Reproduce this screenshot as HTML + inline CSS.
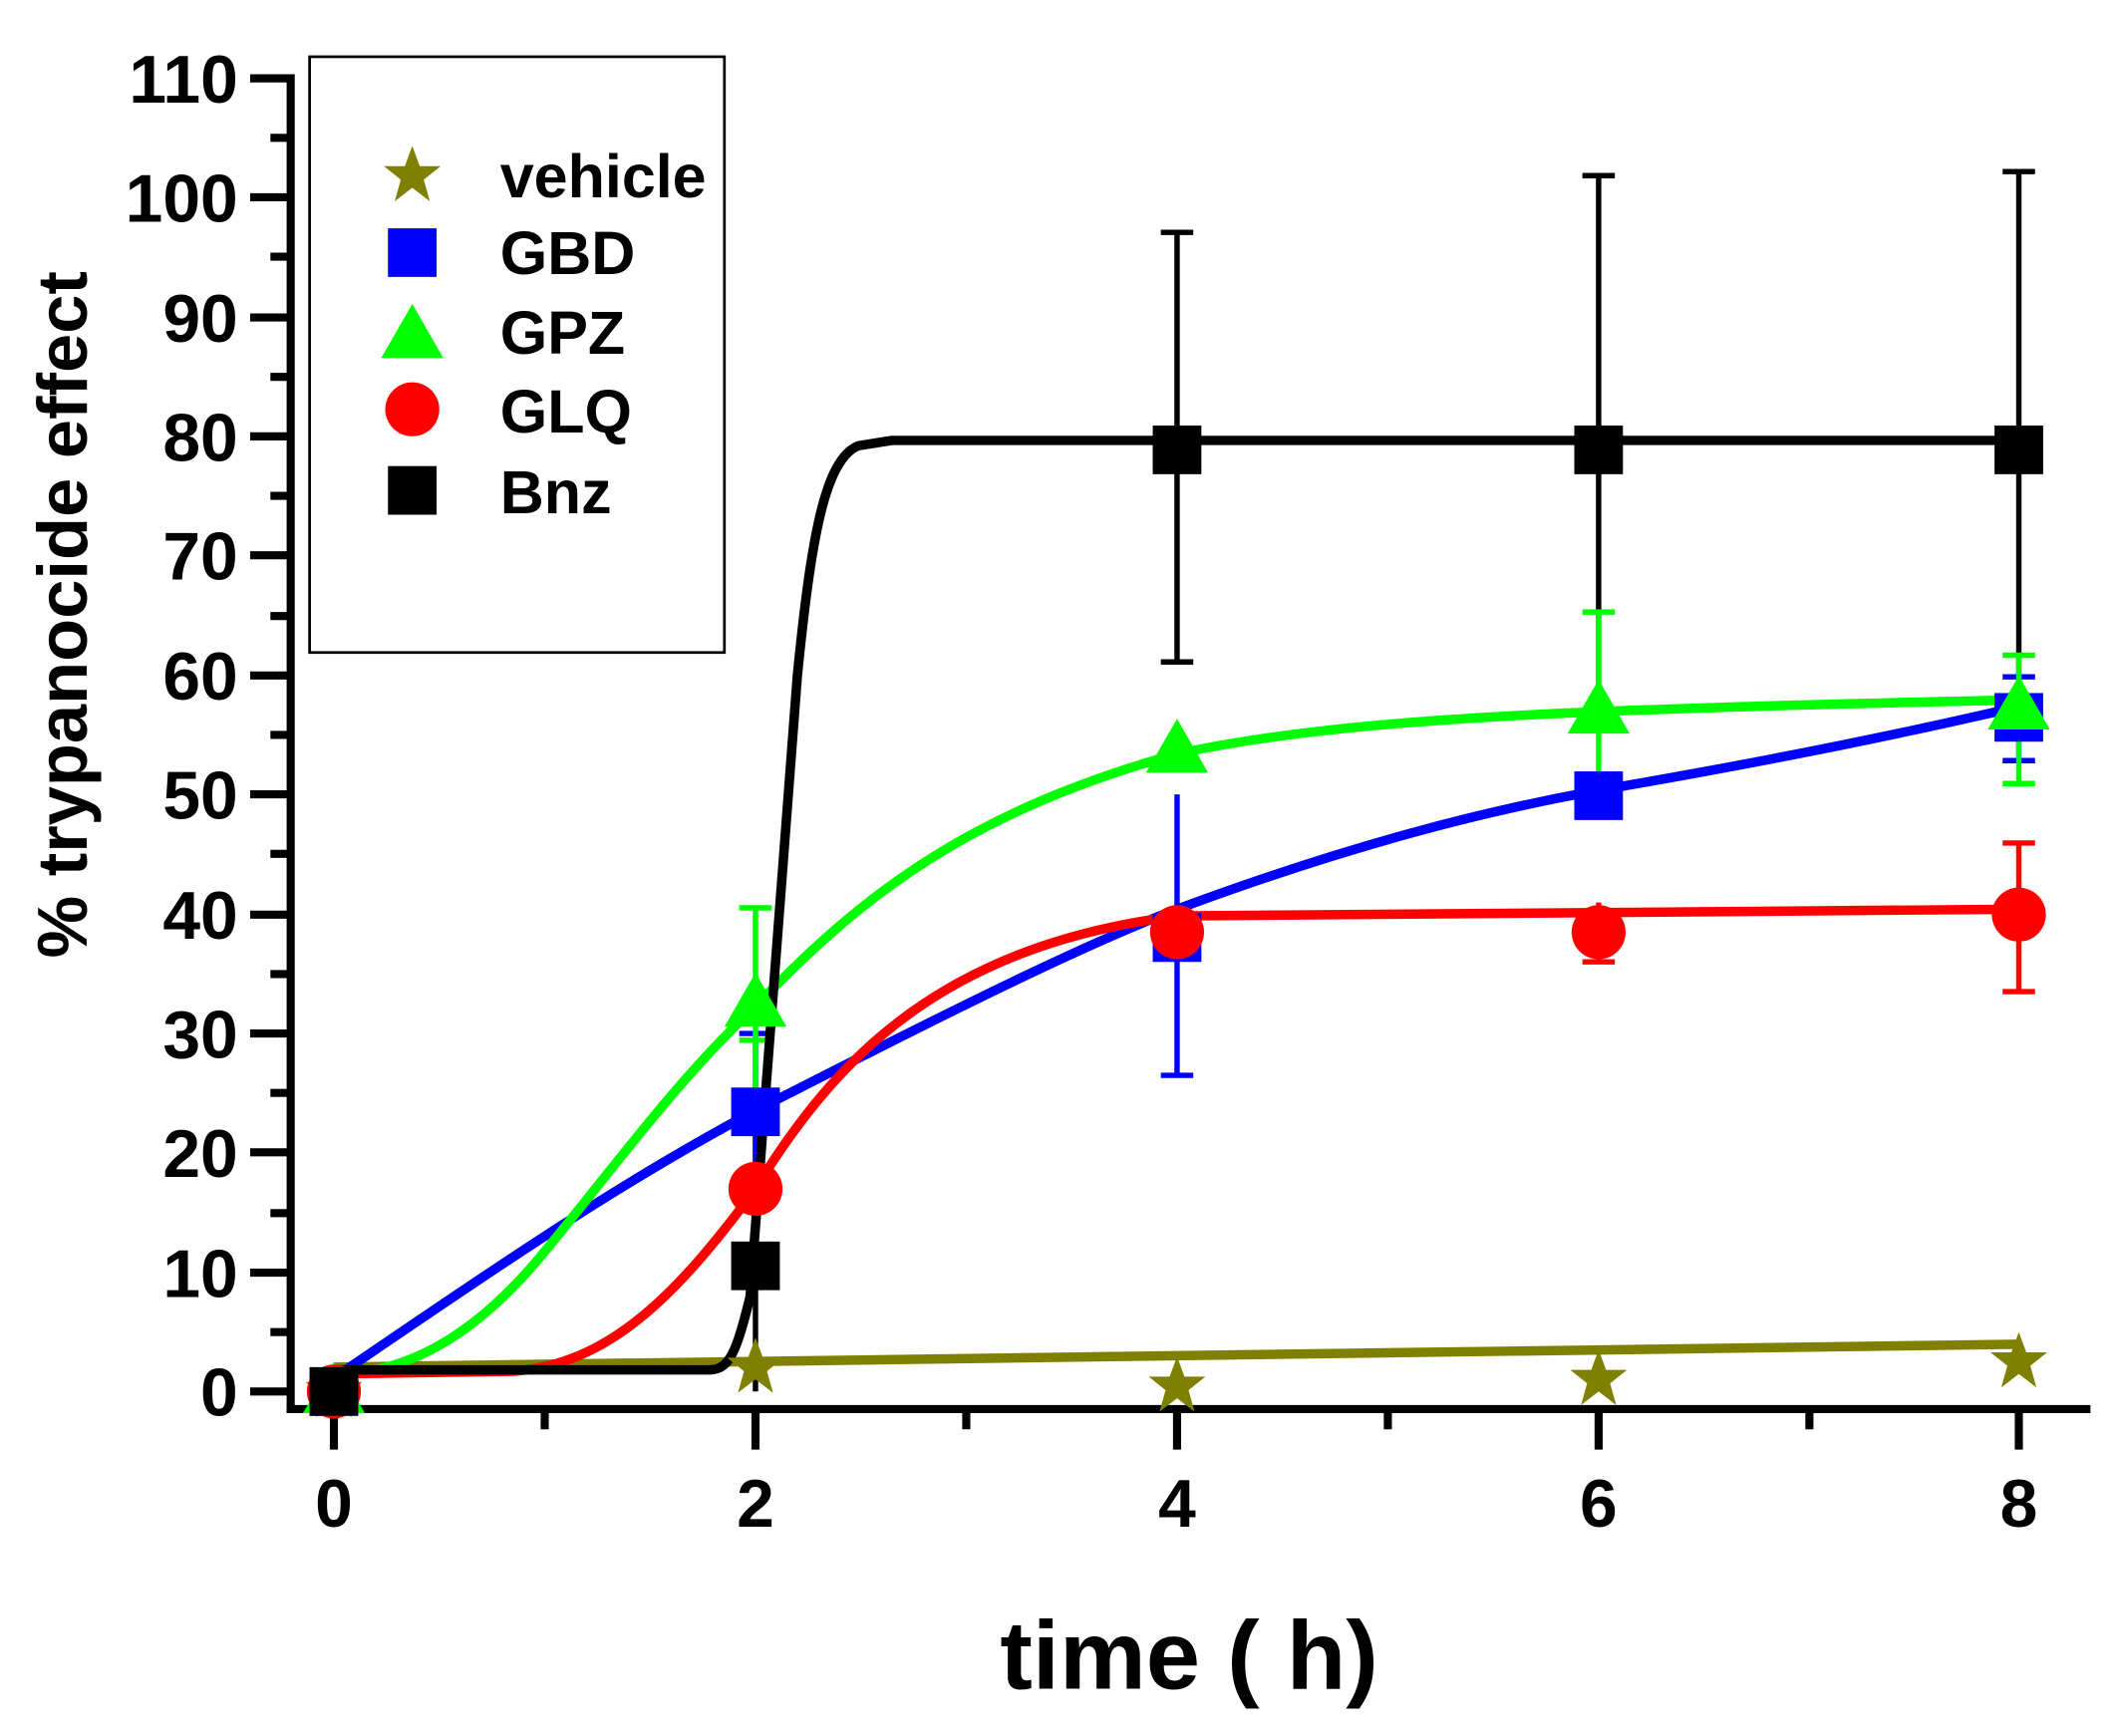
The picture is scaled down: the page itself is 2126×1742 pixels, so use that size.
<!DOCTYPE html>
<html><head><meta charset="utf-8"><style>
html,body{margin:0;padding:0;background:#fff;}
svg{display:block;}
text{font-family:"Liberation Sans",Arial,sans-serif;font-weight:bold;fill:#000;}
</style></head><body>
<svg width="2126" height="1742" viewBox="0 0 1568 1285" xmlns="http://www.w3.org/2000/svg">
<defs>
<polygon id="star" points="0,-22 5.5,-7 21,-7 8.5,3 13,19 0,9 -13,19 -8.5,3 -21,-7 -5.5,-7"/>
</defs>
<g stroke="#000" stroke-width="6" fill="none">
<line x1="215" y1="55" x2="215" y2="1046"/>
<line x1="212" y1="1043" x2="1547" y2="1043"/>
</g>
<g stroke="#000" stroke-width="6">
<line x1="185" y1="1030" x2="215" y2="1030"/><line x1="185" y1="942" x2="215" y2="942"/>
<line x1="185" y1="853" x2="215" y2="853"/><line x1="185" y1="765" x2="215" y2="765"/>
<line x1="185" y1="677" x2="215" y2="677"/><line x1="185" y1="588" x2="215" y2="588"/>
<line x1="185" y1="500" x2="215" y2="500"/><line x1="185" y1="411" x2="215" y2="411"/>
<line x1="185" y1="323" x2="215" y2="323"/><line x1="185" y1="235" x2="215" y2="235"/>
<line x1="185" y1="146" x2="215" y2="146"/><line x1="185" y1="58" x2="215" y2="58"/>
<line x1="200" y1="986" x2="215" y2="986"/><line x1="200" y1="898" x2="215" y2="898"/>
<line x1="200" y1="809" x2="215" y2="809"/><line x1="200" y1="721" x2="215" y2="721"/>
<line x1="200" y1="632" x2="215" y2="632"/><line x1="200" y1="544" x2="215" y2="544"/>
<line x1="200" y1="456" x2="215" y2="456"/><line x1="200" y1="367" x2="215" y2="367"/>
<line x1="200" y1="279" x2="215" y2="279"/><line x1="200" y1="190" x2="215" y2="190"/>
<line x1="200" y1="102" x2="215" y2="102"/>
<line x1="247" y1="1043" x2="247" y2="1073"/><line x1="559" y1="1043" x2="559" y2="1073"/>
<line x1="871" y1="1043" x2="871" y2="1073"/><line x1="1183" y1="1043" x2="1183" y2="1073"/>
<line x1="1494" y1="1043" x2="1494" y2="1073"/>
<line x1="403" y1="1043" x2="403" y2="1058"/><line x1="715" y1="1043" x2="715" y2="1058"/>
<line x1="1027" y1="1043" x2="1027" y2="1058"/><line x1="1339" y1="1043" x2="1339" y2="1058"/>
</g>
<g font-size="50" text-anchor="end">
<text x="176" y="1048">0</text><text x="176" y="960">10</text><text x="176" y="871">20</text>
<text x="176" y="783">30</text><text x="176" y="695">40</text><text x="176" y="606">50</text>
<text x="176" y="518">60</text><text x="176" y="429">70</text><text x="176" y="341">80</text>
<text x="176" y="253">90</text><text x="176" y="164">100</text><text x="176" y="76">110</text>
</g>
<g font-size="50" text-anchor="middle">
<text x="247" y="1130">0</text><text x="559" y="1130">2</text><text x="871" y="1130">4</text>
<text x="1183" y="1130">6</text><text x="1494" y="1130">8</text>
</g>
<text x="880" y="1250" font-size="72" text-anchor="middle">time ( h)</text>
<text transform="translate(64,455) rotate(-90)" font-size="52" text-anchor="middle">% trypanocide effect</text>
<g stroke-width="4" fill="none">
<g stroke="#000">
<path d="M871,490V172M859,172H883M859,490H883"/>
<path d="M1183,535V130M1171,130H1195M1171,535H1195"/>
<path d="M1494,535V127M1482,127H1506M1482,535H1506"/>
<path d="M559,1030V835M547,835H571"/>
</g>
<g stroke="#0000ff">
<path d="M559,889V765M547,765H571M547,889H571"/>
<path d="M871,796V588M859,796H883"/>
<path d="M1494,563V501M1482,563H1506M1482,501H1506"/>
</g>
<g stroke="#00ff00">
<path d="M559,818V672M547,672H571M547,770H571"/>
<path d="M1183,593V453M1171,453H1195M1171,593H1195"/>
<path d="M1494,580V485M1482,580H1506M1482,485H1506"/>
</g>
<g stroke="#ff0000">
<path d="M1183,712V668M1171,712H1195"/>
<path d="M1494,734V624M1482,734H1506M1482,624H1506"/>
</g>
</g>
<g fill="none" stroke-width="7">
<path stroke="#808000" d="M247,1012 L1494,995"/>
<path stroke="#0000ff" d="M247,1020 C350,950 450,880 559,822 C700,750 800,700 871,673 C1000,625 1100,600 1183,585 C1300,565 1400,545 1494,523"/>
<path stroke="#00ff00" d="M247,1017 C300,1017 350,990 400,930 S500,800 559,745 C640,660 720,600 871,558 C1000,530 1183,525 1494,518"/>
<path stroke="#ff0000" d="M247,1017 L380,1015 C450,1010 500,960 559,880 C620,780 700,700 871,678 L1494,673"/>
<path stroke="#000" d="M247,1014 L525,1014 C540,1014 545,1000 555,960 L590,500 C600,400 610,340 635,330 L660,326 L1494,326"/>
</g>
<g fill="#808000">
<use href="#star" x="247" y="1030"/><use href="#star" x="559" y="1012"/><use href="#star" x="871" y="1026"/>
<use href="#star" x="1183" y="1021"/><use href="#star" x="1494" y="1008"/>
</g>
<g fill="#0000ff">
<rect x="229" y="1012" width="36" height="36"/><rect x="541" y="805" width="36" height="36"/>
<rect x="853" y="676" width="36" height="36"/><rect x="1165" y="571" width="36" height="36"/><rect x="1476" y="513" width="36" height="36"/>
</g>
<g fill="#00ff00">
<polygon points="247,1008 270,1046 224,1046"/><polygon points="559,720 582,760 536,760"/>
<polygon points="871,532 894,572 848,572"/><polygon points="1183,503 1206,543 1160,543"/><polygon points="1494,500 1517,540 1471,540"/>
</g>
<g fill="#ff0000">
<circle cx="247" cy="1030" r="20"/><circle cx="559" cy="880" r="20"/><circle cx="871" cy="690" r="20"/>
<circle cx="1183" cy="690" r="20"/><circle cx="1494" cy="677" r="20"/>
</g>
<g fill="#000">
<rect x="229" y="1012" width="36" height="36"/><rect x="541" y="919" width="36" height="36"/>
<rect x="853" y="315" width="36" height="36"/><rect x="1165" y="315" width="36" height="36"/><rect x="1476" y="315" width="36" height="36"/>
</g>
<rect x="229" y="42" width="307" height="441" fill="none" stroke="#000" stroke-width="2"/>
<use href="#star" x="305" y="130" fill="#808000"/>
<rect x="287" y="169" width="36" height="36" fill="#0000ff"/>
<polygon points="305,225 328,265 282,265" fill="#00ff00"/>
<circle cx="305" cy="303" r="20" fill="#ff0000"/>
<rect x="287" y="345" width="36" height="36" fill="#000"/>
<g font-size="45">
<text x="370" y="146">vehicle</text><text x="370" y="203">GBD</text><text x="370" y="262">GPZ</text>
<text x="370" y="320">GLQ</text><text x="370" y="380">Bnz</text>
</g>
</svg>
</body></html>
